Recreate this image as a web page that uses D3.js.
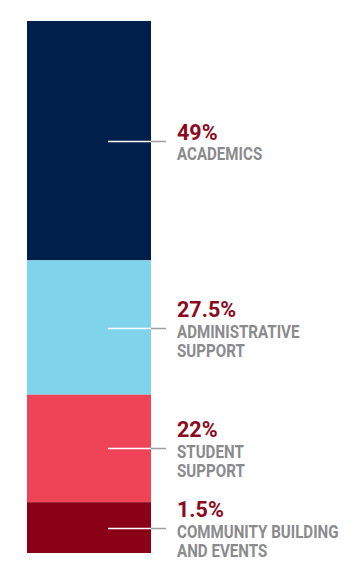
<!DOCTYPE html>
<html><head><meta charset="utf-8">
<script src="https://cdn.jsdelivr.net/npm/d3@7"></script>
<style>html,body{margin:0;padding:0;background:#fff;}svg{display:block;}</style>
</head><body>
<svg id="chart" width="360" height="581"></svg>
<script>
const categories = ["ACADEMICS", "ADMINISTRATIVE SUPPORT", "STUDENT SUPPORT", "COMMUNITY BUILDING AND EVENTS"];
const labelLines = [["ACADEMICS"], ["ADMINISTRATIVE", "SUPPORT"], ["STUDENT", "SUPPORT"], ["COMMUNITY BUILDING", "AND EVENTS"]];
const values = [49, 27.5, 22, 1.5];
const valueLabels = ["49%", "27.5%", "22%", "1.5%"];
const colors = ["#011f4b", "#7fd3eb", "#ef4458", "#8a0016"];

const minShare = 10.4; // small segments drawn with a minimum visible height
const display = values.map(v => Math.max(v, minShare));
const total = d3.sum(display);

const svg = d3.select("#chart");
const y = d3.scaleLinear().domain([0, total]).range([21, 553]);
const barX = 27, barW = 124;

let acc = 0;
const segs = values.map((v, i) => {
  const s = {i, v, y0: acc, y1: acc + display[i]};
  acc += display[i];
  return s;
});

svg.selectAll("rect.seg").data(segs).join("rect")
  .attr("class", "seg")
  .attr("x", barX).attr("width", barW)
  .attr("y", d => y(d.y0)).attr("height", d => y(d.y1) - y(d.y0))
  .attr("fill", d => colors[d.i]);

const font = "Roboto, 'Liberation Sans', sans-serif";
const sx = 0.84;
segs.forEach(d => {
  const ly = Math.round((y(d.y0) + y(d.y1)) / 2) + 0.5;
  svg.append("line").attr("x1", 108).attr("x2", barX + barW).attr("y1", ly).attr("y2", ly)
    .attr("stroke", "#ffffff").attr("stroke-width", 1.5);
  svg.append("line").attr("x1", barX + barW).attr("x2", 166).attr("y1", ly).attr("y2", ly)
    .attr("stroke", "#9a9ea3").attr("stroke-width", 1.5);
  const lines = labelLines[d.i];
  const H = 15 + 20.5 + 19 * (lines.length - 1);
  const pb = ly + 1 - H / 2 + 15;
  svg.append("text").attr("x", 177).attr("y", pb)
    .attr("font-family", font).attr("font-weight", 700).attr("font-size", 21.5)
    .attr("fill", "#8b0a1e").text(valueLabels[d.i]);
  const g = svg.append("g").attr("transform", `translate(177,0) scale(${sx},1)`);
  lines.forEach((t, k) => {
    g.append("text").attr("x", 0).attr("y", pb + 20.5 + 19 * k)
      .attr("font-family", font).attr("font-weight", 700).attr("font-size", 18)
      .attr("fill", "#8a8b8d").text(t);
  });
});
</script>
</body></html>
